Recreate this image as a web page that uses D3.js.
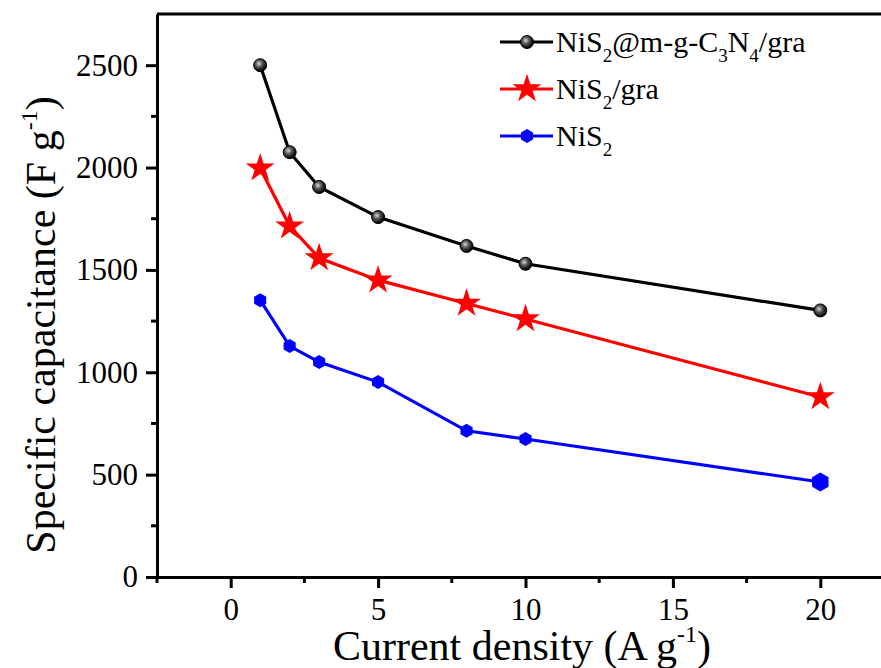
<!DOCTYPE html>
<html>
<head>
<meta charset="utf-8">
<script src="https://cdn.jsdelivr.net/npm/d3@7/dist/d3.min.js"></script>
<style>
  body { margin: 0; background: #fff; }
  svg text { font-family: "Liberation Serif", "Times New Roman", serif; fill: #000; }
</style>
</head>
<body>
<svg id="chart" width="881" height="668"></svg>
<script>
// current density (A g-1)
var currentDensity = [1, 2, 3, 5, 8, 10, 20];
// specific capacitance (F g-1)
var capComposite = [2500, 2075, 1905, 1758, 1617, 1530, 1302];
var capNiS2Gra = [1997, 1714, 1558, 1450, 1336, 1260, 879];
var capNiS2 = [1352, 1128, 1050, 952, 714, 674, 464];
var xTicks = [0, 5, 10, 15, 20];
var yTicks = [0, 500, 1000, 1500, 2000, 2500];

var W = 881, H = 668;
var plotLeft = 157, plotTop = 14, plotRight = 894, plotBottom = 577;
var serif = '"Liberation Serif", "Times New Roman", serif';

var svg = d3.select("#chart");

var x = d3.scaleLinear().domain([-2.5, 22.5]).range([plotLeft, plotRight]);
var y = d3.scaleLinear().domain([0, 2750]).range([plotBottom, plotTop]);

// sphere gradient for black markers
var defs = svg.append("defs");
var grad = defs.append("radialGradient")
    .attr("id", "ball")
    .attr("cx", "40%").attr("cy", "38%").attr("r", "60%");
grad.append("stop").attr("offset", "0%").attr("stop-color", "#d8d8d8");
grad.append("stop").attr("offset", "45%").attr("stop-color", "#555");
grad.append("stop").attr("offset", "100%").attr("stop-color", "#000");

// frame top line
svg.append("line")
    .attr("x1", plotLeft).attr("x2", W)
    .attr("y1", plotTop).attr("y2", plotTop)
    .attr("stroke", "#000").attr("stroke-width", 3);

// x axis
var xAxis = d3.axisBottom(x).tickValues(xTicks).tickFormat(d3.format("d"))
    .tickSize(11).tickPadding(6).tickSizeOuter(0);
var gx = svg.append("g")
    .attr("transform", "translate(0," + plotBottom + ")")
    .call(xAxis);
gx.attr("font-family", serif);
gx.select(".domain").attr("stroke-width", 3);
gx.selectAll(".tick line").attr("stroke-width", 3);
gx.selectAll(".tick text").style("font-size", "31px").style("font-family", serif).attr("dy", "0.85em");
var xMinor = d3.range(-2.5, 23, 5);
gx.selectAll(".minor").data(xMinor).enter().append("line")
    .attr("x1", function (d) { return x(d); })
    .attr("x2", function (d) { return x(d); })
    .attr("y1", 0).attr("y2", 6)
    .attr("stroke", "#000").attr("stroke-width", 3);

// y axis
var yAxis = d3.axisLeft(y).tickValues(yTicks).tickFormat(d3.format("d"))
    .tickSize(11).tickPadding(8).tickSizeOuter(0);
var gy = svg.append("g")
    .attr("transform", "translate(" + plotLeft + ",0)")
    .call(yAxis);
gy.attr("font-family", serif);
gy.select(".domain").attr("stroke-width", 3);
gy.selectAll(".tick line").attr("stroke-width", 3);
gy.selectAll(".tick text").style("font-size", "31px").style("font-family", serif);
var yMinor = d3.range(250, 2750, 500);
gy.selectAll(".minor").data(yMinor).enter().append("line")
    .attr("y1", function (d) { return y(d); })
    .attr("y2", function (d) { return y(d); })
    .attr("x1", 0).attr("x2", -6)
    .attr("stroke", "#000").attr("stroke-width", 3);

// axis titles
var xt = svg.append("text")
    .attr("x", 522).attr("y", 660)
    .attr("text-anchor", "middle")
    .style("font-size", "42px");
xt.append("tspan").text("Current density (A g");
xt.append("tspan").attr("dy", -18).style("font-size", "24px").text("-1");
xt.append("tspan").attr("dy", 18).text(")");

var yt = svg.append("text")
    .attr("transform", "translate(55,325) rotate(-90)")
    .attr("text-anchor", "middle")
    .style("font-size", "42px");
yt.append("tspan").text("Specific capacitance (F g");
yt.append("tspan").attr("dy", -18).style("font-size", "24px").text("-1");
yt.append("tspan").attr("dy", 18).text(")");

var line = d3.line()
    .x(function (d) { return x(d[0]); })
    .y(function (d) { return y(d[1]); });

var series = [
    { name: "composite", values: capComposite, color: "#000", marker: "ball" },
    { name: "gra", values: capNiS2Gra, color: "#ff0000", marker: "star" },
    { name: "nis2", values: capNiS2, color: "#0000ff", marker: "hex" }
];

var starPath = d3.symbol().type(d3.symbolStar).size(260)();
function hexPath(r) {
    var pts = d3.range(6).map(function (i) {
        var a = Math.PI / 6 + i * Math.PI / 3;
        return [r * Math.cos(a), r * Math.sin(a)];
    });
    return "M" + pts.join("L") + "Z";
}

function drawMarker(g, type, color, big) {
    if (type === "ball") {
        g.append("circle").attr("r", 6.5)
            .attr("fill", "url(#ball)").attr("stroke", "#000").attr("stroke-width", 1);
    } else if (type === "star") {
        g.append("path").attr("d", starPath).attr("fill", color);
    } else {
        g.append("path").attr("d", hexPath(big ? 9.5 : 7)).attr("fill", color);
    }
}

series.forEach(function (s) {
    var pts = currentDensity.map(function (d, i) { return [d, s.values[i]]; });
    svg.append("path")
        .datum(pts)
        .attr("d", line)
        .attr("fill", "none")
        .attr("stroke", s.color)
        .attr("stroke-width", 3.2);
    pts.forEach(function (p, i) {
        var g = svg.append("g").attr("transform", "translate(" + x(p[0]) + "," + y(p[1]) + ")");
        drawMarker(g, s.marker, s.color, s.marker === "hex" && i === pts.length - 1);
    });
});

// legend
var legendRows = [
    { color: "#000", marker: "ball", parts: [["NiS", 0], ["2", 1], ["@m-g-C", 0], ["3", 1], ["N", 0], ["4", 1], ["/gra", 0]] },
    { color: "#ff0000", marker: "star", parts: [["NiS", 0], ["2", 1], ["/gra", 0]] },
    { color: "#0000ff", marker: "hex", parts: [["NiS", 0], ["2", 1]] }
];
legendRows.forEach(function (r, i) {
    var ly = 42 + i * 47;
    svg.append("line")
        .attr("x1", 500).attr("x2", 553)
        .attr("y1", ly).attr("y2", ly)
        .attr("stroke", r.color).attr("stroke-width", 3.2);
    var g = svg.append("g").attr("transform", "translate(527," + ly + ")");
    drawMarker(g, r.marker, r.color, false);
    var t = svg.append("text")
        .attr("x", 556).attr("y", ly + 10)
        .style("font-size", "30px");
    r.parts.forEach(function (p, j) {
        var prevSub = j > 0 && r.parts[j - 1][1];
        var ts = t.append("tspan").text(p[0]);
        if (p[1]) ts.attr("dy", 10).style("font-size", "19px");
        else if (prevSub) ts.attr("dy", -10);
    });
});
</script>
</body>
</html>
